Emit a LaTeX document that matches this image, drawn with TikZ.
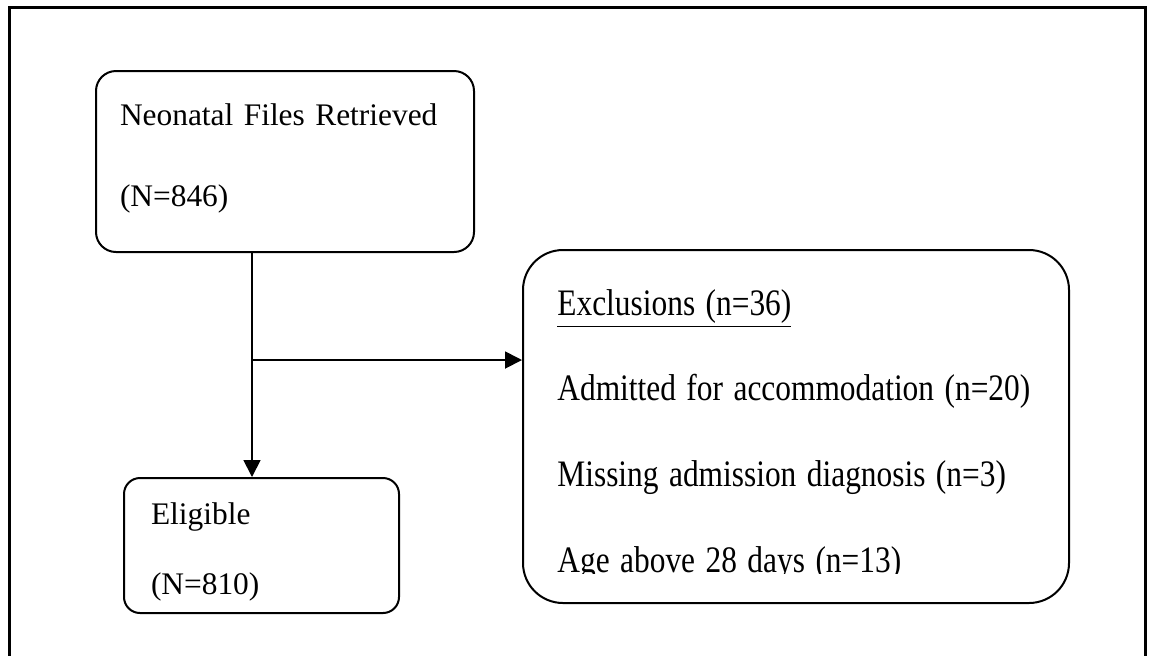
\documentclass[tikz,border=0pt]{standalone}
\usepackage{fontspec}
\setmainfont{Liberation Serif}
\usetikzlibrary{positioning}
\usetikzlibrary{arrows.meta}

\begin{document}
\begin{tikzpicture}[x=0.5pt,y=-0.5pt,
	box/.style={draw,rounded corners=10pt,line width=1pt,align=left,inner ysep=0pt,font=\fontsize{15.7pt}{40.5pt}\selectfont},
	flow/.style={line width=0.9pt,-{Triangle[length=8.5pt,width=8.5pt]}}]
	\useasboundingbox (0,0) rectangle (1149,655);
	% outer frame, open at the bottom
	\draw[line width=1.2pt] (9.5,660) -- (9.5,7.5) -- (1145.5,7.5) -- (1145.5,660);

	\node [box,anchor=north west,inner xsep=12pt,text width=165pt,text height=27pt,text depth=63.5pt] (retr) at (95,70) {Neonatal Files Retrieved\\(N=846)};
	\node [box,anchor=north west,inner xsep=13.5pt,text width=110.5pt,text height=23pt,text depth=44.5pt,rounded corners=8pt,font=\fontsize{15.7pt}{35pt}\selectfont] (elig) at (123,477) {Eligible\\(N=810)};
	\node [box,anchor=north west,minimum width=273pt,minimum height=176.5pt,rounded corners=20pt,inner sep=0pt] (excl) at (522,249) {};
	\begin{scope}
		\clip (excl.north west) rectangle ([yshift=15.5pt]excl.south east);
		\begin{scope}[shift={(557,315)},yscale=1.19]
			\node [anchor=base west,inner sep=0pt,align=left,text width=250pt,transform shape,font=\fontsize{15.7pt}{36pt}\selectfont] (excltxt) at (0,0) {\underline{Exclusions (n=36)}\\Admitted for accommodation (n=20)\\Missing admission diagnosis (n=3)\\Age above 28 days (n=13)};
		\end{scope}
	\end{scope}

	\coordinate (split) at (252,360);
	\draw[line width=0.9pt] (split |- retr.south) -- (split);
	\draw[flow] (split) -- (split |- elig.north);
	\draw[flow] (split) -- (split -| excl.west);
\end{tikzpicture}
\end{document}
